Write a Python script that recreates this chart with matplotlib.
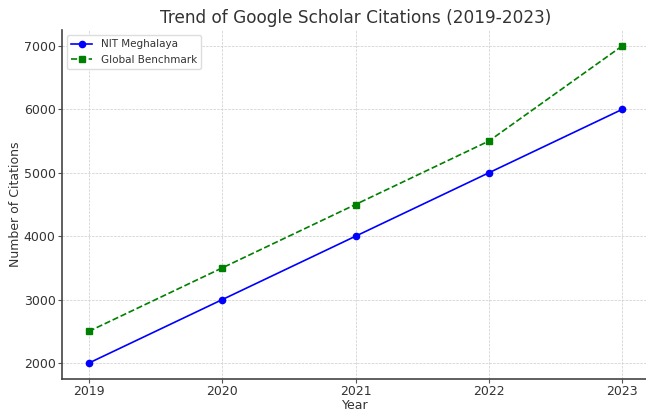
import matplotlib
matplotlib.use("Agg")
import matplotlib.pyplot as plt

years = [2019, 2020, 2021, 2022, 2023]
nit_citations = [2000, 3000, 4000, 5000, 6000]
benchmark_citations = [2500, 3500, 4500, 5500, 7000]
yticks = [2000, 3000, 4000, 5000, 6000, 7000]

txt = "#333333"

fig = plt.figure(figsize=(6.46, 4.11), dpi=100)
ax = fig.add_axes([62/646, 32/411, 587/646, 349/411])

ax.plot(years, nit_citations, color="blue", marker="o", markersize=4.5,
        linewidth=1.2, label="NIT Meghalaya")
ax.plot(years, benchmark_citations, color="green", marker="s", markersize=4.5,
        linewidth=1.2, linestyle="--", label="Global Benchmark")

ax.set_xticks(years)
ax.set_yticks(yticks)
ax.set_title("Trend of Google Scholar Citations (2019-2023)", fontsize=12.2, color=txt, pad=5)
ax.set_xlabel("Year", fontsize=9, color=txt, labelpad=0.5)
ax.set_ylabel("Number of Citations", fontsize=9, color=txt, labelpad=1.5)
ax.tick_params(labelsize=9, labelcolor=txt, color="#555555", length=3, pad=1.5)
ax.grid(True, linestyle="--", linewidth=0.5, color="#cccccc")
for s in ["top", "right"]:
    ax.spines[s].set_visible(False)
for s in ["left", "bottom"]:
    ax.spines[s].set_color("#444444")
    ax.spines[s].set_linewidth(1.2)

leg = ax.legend(loc="upper left", fontsize=7.5, framealpha=1, edgecolor="#dddddd")
for t in leg.get_texts():
    t.set_color(txt)

fig.savefig("out.png", dpi=100)
